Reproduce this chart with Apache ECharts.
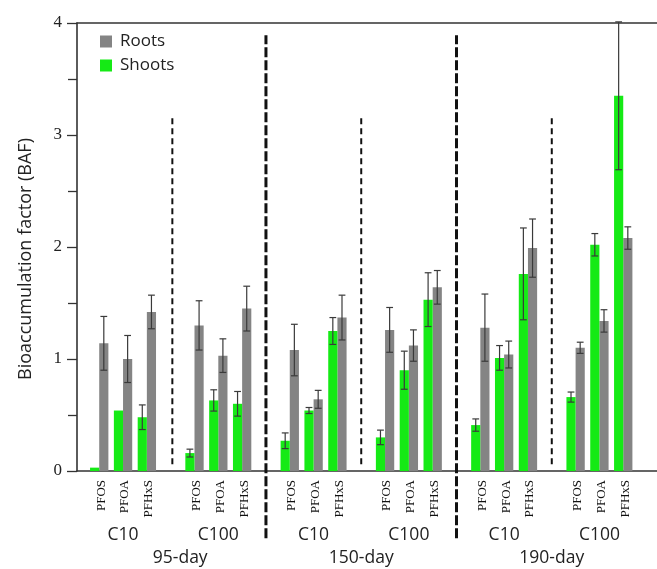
<!DOCTYPE html>
<html>
<head>
<meta charset="utf-8">
<script src="https://cdn.jsdelivr.net/npm/echarts@6/dist/echarts.min.js"></script>
<style>html,body{margin:0;padding:0;background:#fff}#c{width:657px;height:569px}</style>
</head>
<body>
<div id="c"></div>
<script>
// ---- data ----
const compounds = ['PFOS', 'PFOA', 'PFHxS'];
const concentrations = ['C10', 'C100'];
const periods = ['95-day', '150-day', '190-day'];
// order: period -> concentration -> compound
const rootsBAF  = [1.14, 1.00, 1.42,  1.30, 1.03, 1.45,  1.08, 0.64, 1.37,  1.26, 1.12, 1.64,  1.28, 1.04, 1.99,  1.10, 1.34, 2.08];
const rootsErr  = [0.24, 0.21, 0.15,  0.22, 0.15, 0.20,  0.23, 0.08, 0.20,  0.20, 0.14, 0.15,  0.30, 0.12, 0.26,  0.05, 0.10, 0.10];
const shootsBAF = [0.03, 0.54, 0.48,  0.16, 0.63, 0.60,  0.27, 0.54, 1.25,  0.30, 0.90, 1.53,  0.41, 1.01, 1.76,  0.66, 2.02, 3.35];
const shootsErr = [0,    0,    0.11,  0.035,0.095,0.11,  0.07, 0.027,0.12,  0.065,0.17, 0.24,  0.055,0.11, 0.41,  0.045,0.10, 0.66];
const yTicks = [0, 1, 2, 3, 4];

// ---- derived positions (slot index on x) ----
const nC = compounds.length, nG = periods.length * concentrations.length;
const slots = [];
for (let g = 0; g < nG; g++) for (let i = 0; i < nC; i++) slots.push(g * (nC + 1) + i);
const groupCenters = [];
for (let g = 0; g < nG; g++) groupCenters.push(g * (nC + 1) + (nC - 1) / 2);
const thinDividers = [], thickDividers = [];
for (let p = 0; p < periods.length; p++) {
  thinDividers.push(groupCenters[p * 2] + (nC + 1) / 2);
  if (p > 0) thickDividers.push(groupCenters[p * 2] - (nC + 1) / 2);
}
const periodCenters = periods.map((_, p) => (groupCenters[p * 2] + groupCenters[p * 2 + 1]) / 2);

const GREEN = '#15ea15', GRAY = '#848484', ERR = '#3a3a3a';
const SANS = 'Open Sans';
const SERIF = 'Liberation Serif';

function barRender(side, color) {
  return function (params, api) {
    const x = api.value(0), v = api.value(1), e = api.value(2);
    const base = api.coord([x, 0]);
    const top = api.coord([x, v]);
    const slotW = api.size([1, 0])[0];
    const bw = slotW * 0.385;
    const x0 = side < 0 ? base[0] - bw : base[0];
    const children = [{
      type: 'rect',
      shape: { x: x0, y: top[1], width: bw, height: base[1] - top[1] },
      style: { fill: color }
    }];
    if (e > 0) {
      const cx = x0 + bw / 2;
      const hi = api.coord([x, v + e])[1];
      const lo = api.coord([x, v - e])[1];
      const cw = 3.4;
      const ls = { stroke: ERR, lineWidth: 1.2 };
      children.push({ type: 'line', shape: { x1: cx, y1: hi, x2: cx, y2: lo }, style: ls });
      children.push({ type: 'line', shape: { x1: cx - cw, y1: hi, x2: cx + cw, y2: hi }, style: ls });
      children.push({ type: 'line', shape: { x1: cx - cw, y1: lo, x2: cx + cw, y2: lo }, style: ls });
    }
    return { type: 'group', children };
  };
}

const rootsData = slots.map((s, k) => [s, rootsBAF[k], rootsErr[k]]);
const shootsData = slots.map((s, k) => [s, shootsBAF[k], shootsErr[k]]);

// label items: [x, kind, textIndex]
const labelData = [];
slots.forEach((s, k) => labelData.push([s, 0, k % nC]));
groupCenters.forEach((c, g) => labelData.push([c, 1, g % concentrations.length]));
periodCenters.forEach((c, p) => labelData.push([c + (p === 0 ? 0.4 : 0), 2, p]));

const dividerData = [];
thinDividers.forEach((x, k) => dividerData.push([x + (k === 0 ? 0.07 : 0), 0.06, 3.15, 0]));
thickDividers.forEach(x => dividerData.push([x, -0.6, 3.89, 1]));

const chart = echarts.init(document.getElementById('c'));
const slotPx = 24.64, gridW = 600;
const xMin = -0.933, xMax = xMin + gridW / slotPx;

chart.setOption({
  animation: false,
  backgroundColor: '#fff',
  grid: { left: 77, top: 23, width: gridW, height: 448 },
  legend: {
    data: ['Roots', 'Shoots'],
    orient: 'vertical', left: 95, top: 28,
    icon: 'rect', itemWidth: 12, itemHeight: 12, itemGap: 7,
    textStyle: { fontFamily: SANS, fontSize: 17, color: '#222', padding: [0, 0, 0, 3] }
  },
  xAxis: [
    { type: 'value', min: xMin, max: xMax, position: 'bottom',
      axisLine: { show: true, onZero: false, lineStyle: { color: '#333', width: 1.6 } },
      axisTick: { show: false }, axisLabel: { show: false }, splitLine: { show: false } },
    { type: 'value', min: xMin, max: xMax, position: 'top',
      axisLine: { show: true, onZero: false, lineStyle: { color: '#333', width: 1.6 } },
      axisTick: { show: false }, axisLabel: { show: false }, splitLine: { show: false } }
  ],
  yAxis: {
    type: 'value', min: yTicks[0], max: yTicks[yTicks.length - 1], interval: 1,
    name: 'Bioaccumulation factor (BAF)', nameLocation: 'middle', nameGap: 42,
    nameTextStyle: { fontFamily: SANS, fontSize: 18, color: '#222', padding: [0, 24, 0, 0] },
    axisLine: { show: true, onZero: false, lineStyle: { color: '#333', width: 1.6 } },
    axisTick: { show: true, length: 10, lineStyle: { color: '#333', width: 1.3 } },
    minorTick: { show: true, splitNumber: 2, length: 9, lineStyle: { color: '#333', width: 1.3 } },
    axisLabel: { margin: 15, fontFamily: SERIF, fontSize: 17, color: '#222' },
    splitLine: { show: false }
  },
  series: [
    { name: 'Roots', type: 'custom', renderItem: barRender(1, GRAY), data: rootsData,
      itemStyle: { color: GRAY }, encode: { x: 0, y: 1 }, z: 3 },
    { name: 'Shoots', type: 'custom', renderItem: barRender(-1, GREEN), data: shootsData,
      itemStyle: { color: GREEN }, encode: { x: 0, y: 1 }, z: 3 },
    { name: 'dividers', type: 'custom', silent: true, z: 4, data: dividerData, encode: { x: 0, y: 1 },
      renderItem: function (params, api) {
        const x = api.value(0);
        const p0 = api.coord([x, api.value(1)]), p1 = api.coord([x, api.value(2)]);
        const thick = api.value(3) === 1;
        return { type: 'line', shape: { x1: p0[0], y1: p0[1], x2: p1[0], y2: p1[1] },
          style: { stroke: '#111', lineWidth: thick ? 3 : 2, lineDash: thick ? [10, 3] : [6, 4] } };
      } },
    { name: 'labels', type: 'custom', silent: true, data: labelData, encode: { x: 0 },
      renderItem: function (params, api) {
        const x = api.value(0), kind = api.value(1), idx = api.value(2);
        const p = api.coord([x, 0]);
        if (kind === 0) {
          return { type: 'text', x: p[0] + 2, y: p[1] + 9, rotation: Math.PI / 2,
            style: { text: compounds[idx], x: 0, y: 0, align: 'right', verticalAlign: 'middle',
              fontFamily: SERIF, fontSize: 13, fill: '#111' } };
        }
        const txt = kind === 1 ? concentrations[idx] : periods[idx];
        return { type: 'text', x: p[0], y: p[1] + (kind === 1 ? 64 : 87),
          style: { text: txt, x: 0, y: 0, align: 'center', verticalAlign: 'middle',
            fontFamily: SANS, fontSize: 17.5, fill: '#222' } };
      } }
  ]
});
</script>
</body>
</html>
